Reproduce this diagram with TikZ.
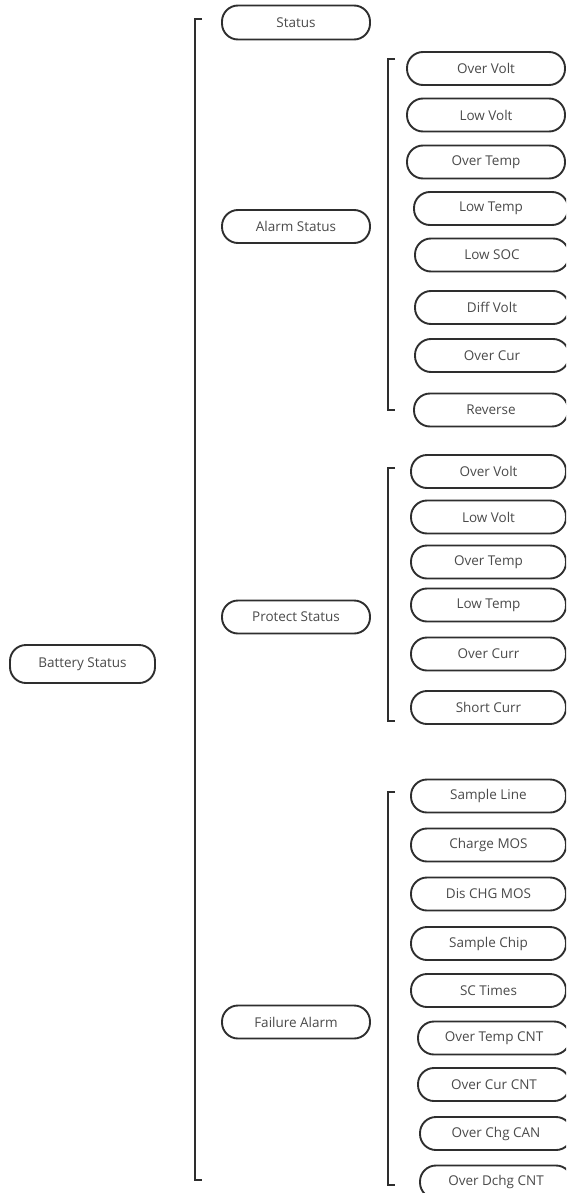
\documentclass[tikz,border=0pt]{standalone}
\usepackage{fontspec}
\setmainfont{Open Sans}
\definecolor{linec}{HTML}{2E2E2E}
\definecolor{textc}{HTML}{4A4A4A}
\begin{document}
\begin{tikzpicture}[x=1pt,y=-1pt,
  pill/.style={draw=linec, line width=1.9pt, rounded corners=16pt, text=textc,
    font=\fontsize{13.5}{16}\selectfont, inner sep=0pt, minimum height=33pt},
  brace/.style={draw=linec, line width=2pt}]
\useasboundingbox (0,0) rectangle (566,1193);
\clip (0,0) rectangle (566,1193);
% level 0
\node[pill, minimum width=145pt, minimum height=38pt] (bat) at (82.5,664) {Battery Status};
% level 1
\node[pill, minimum width=148pt, minimum height=34pt] (st) at (296,22.5) {Status};
\node[pill, minimum width=148pt] (al) at (296,226.5) {Alarm Status};
\node[pill, minimum width=148pt] (pr) at (296,617) {Protect Status};
\node[pill, minimum width=148pt] (fa) at (296,1022) {Failure Alarm};
% main bracket
\draw[brace] (202,19) -- (195,19) -- (195,1180) -- (202,1180);
% alarm bracket
\draw[brace] (395,59) -- (388,59) -- (388,410) -- (395,410);
\node[pill, minimum width=158pt] (a1) at (486,68.5) {Over Volt};
\node[pill, minimum width=158pt] (a2) at (486,115) {Low Volt};
\node[pill, minimum width=158pt] (a3) at (486,162) {Over Temp};
\node[pill, minimum width=154pt] (a4) at (491,208.5) {Low Temp};
\node[pill, minimum width=154pt] (a5) at (492,255) {Low SOC};
\node[pill, minimum width=154pt] (a6) at (492,307.5) {Diff Volt};
\node[pill, minimum width=154pt] (a7) at (492,355.5) {Over Cur};
\node[pill, minimum width=154pt] (a8) at (491,410) {Reverse};
% protect bracket
\draw[brace] (395,468) -- (388,468) -- (388,721) -- (395,721);
\node[pill, minimum width=155pt] (p1) at (488.5,471.5) {Over Volt};
\node[pill, minimum width=155pt] (p2) at (488.5,517) {Low Volt};
\node[pill, minimum width=155pt] (p3) at (488.5,562) {Over Temp};
\node[pill, minimum width=155pt] (p4) at (488.5,605) {Low Temp};
\node[pill, minimum width=155pt] (p5) at (488.5,654) {Over Curr};
\node[pill, minimum width=155pt] (p6) at (488.5,707.5) {Short Curr};
% failure bracket
\draw[brace] (395,792) -- (388,792) -- (388,1185) -- (395,1185);
\node[pill, minimum width=155pt] (f1) at (488.5,796) {Sample Line};
\node[pill, minimum width=155pt] (f2) at (488.5,845) {Charge MOS};
\node[pill, minimum width=155pt] (f3) at (488.5,894) {Dis CHG MOS};
\node[pill, minimum width=155pt] (f4) at (488.5,943.5) {Sample Chip};
\node[pill, minimum width=155pt] (f5) at (488.5,990.5) {SC Times};
\node[pill, minimum width=152pt] (f6) at (494,1038) {Over Temp CNT};
\node[pill, minimum width=152pt] (f7) at (494,1084.5) {Over Cur CNT};
\node[pill, minimum width=152pt] (f8) at (496,1133.5) {Over Chg CAN};
\node[pill, minimum width=152pt] (f9) at (496,1182) {Over Dchg CNT};
\end{tikzpicture}
\end{document}
